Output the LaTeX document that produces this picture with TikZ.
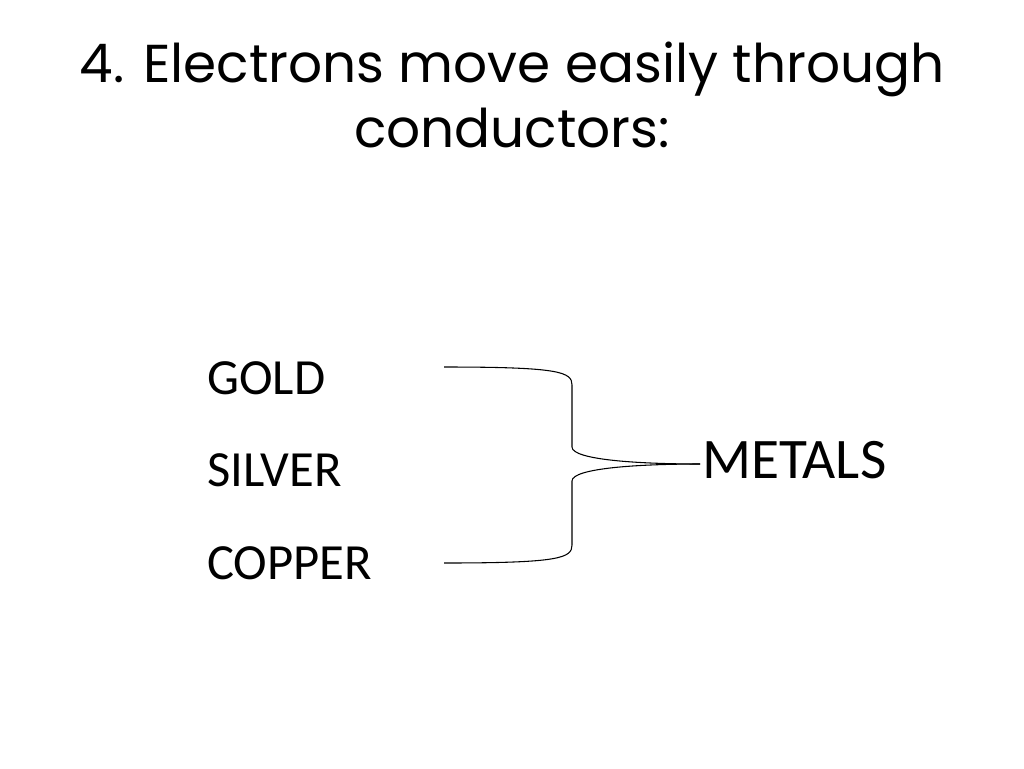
\documentclass[tikz,border=0pt]{standalone}
\usepackage{fontspec}
\setmainfont{Carlito}
\newfontfamily\titlefont{Poppins}
\begin{document}
\begin{tikzpicture}[x=0.75pt,y=-0.75pt,
  item/.style={anchor=west,inner sep=0pt,font=\fontsize{38}{42}\selectfont},
  brace/.style={line width=0.8pt}]
\useasboundingbox (0,0) rectangle (1024,768);
\node[font=\titlefont\fontsize{40}{49}\selectfont,align=center] (title) at (512,95) {4. Electrons move easily through\\conductors:};
\node[item] (gold) at (207,378) {GOLD};
\node[item] (silver) at (207,470) {SILVER};
\node[item] (copper) at (207,563) {COPPER};
\node[item,font=\fontsize{43}{48}\selectfont] (metals) at (702,460) {METALS};
\coordinate (a) at (444,367);
\coordinate (b) at (444,563);
\coordinate (m) at (700,464);
\draw[brace] (a) .. controls (560,367) and (572,372) .. (572,385) -- (572,447) .. controls (572,460) and (640,464) .. (m);
\draw[brace] (b) .. controls (560,563) and (572,558) .. (572,545) -- (572,481) .. controls (572,468) and (640,464) .. (m);
\end{tikzpicture}
\end{document}
